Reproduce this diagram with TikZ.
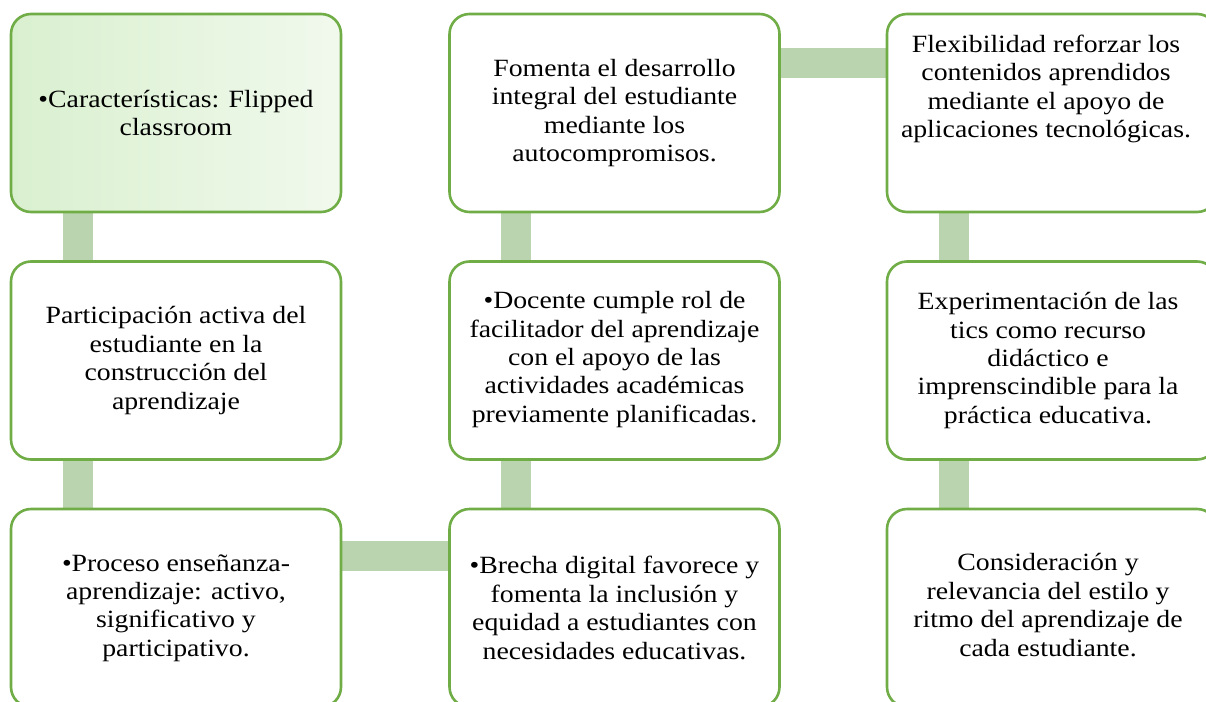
\documentclass[tikz,border=0pt]{standalone}
\usepackage{fontspec}
\setmainfont{Liberation Serif}[FakeStretch=1.12]
\usetikzlibrary{backgrounds}
\definecolor{boxgreen}{RGB}{112,173,71}
\definecolor{bargreen}{RGB}{187,212,176}
\definecolor{fillL}{RGB}{217,240,207}
\definecolor{fillR}{RGB}{241,249,237}
\tikzset{
  card/.style={draw=boxgreen, line width=2.6pt, rounded corners=20pt, fill=white,
    minimum width=330pt, minimum height=198pt, inner sep=0pt},
  firstcard/.style={card, left color=fillL, right color=fillR},
  txt/.style={align=center, inner sep=0pt, font=\fontsize{24.8}{28.4}\selectfont},
  bar/.style={draw=bargreen, line width=30pt, line cap=butt}
}
\begin{document}
\begin{tikzpicture}[x=1pt,y=-1pt]
\useasboundingbox (0,0) rectangle (1206,701);
\clip (0,0) rectangle (1206,701);
% boxes
\node[firstcard] (b11) at (176,113) {};
\node[card] (b12) at (176,360.5) {};
\node[card] (b13) at (176,608) {};
\node[card] (b21) at (614.5,113) {};
\node[card] (b22) at (614.5,360.5) {};
\node[card] (b23) at (614.5,608) {};
\node[card] (b31) at (1052,113) {};
\node[card] (b32) at (1052,360.5) {};
\node[card] (b33) at (1052,608) {};
% connectors
\begin{scope}[on background layer]
\draw[bar] ([xshift=68pt]b11.south west) -- ([xshift=68pt]b12.north west);
\draw[bar] ([xshift=68pt]b12.south west) -- ([xshift=68pt]b13.north west);
\draw[bar] ([yshift=-48.5pt]b13.north east) -- ([yshift=-48.5pt]b23.north west);
\draw[bar] ([xshift=68pt]b23.north west) -- ([xshift=68pt]b22.south west);
\draw[bar] ([xshift=68pt]b22.north west) -- ([xshift=68pt]b21.south west);
\draw[bar] ([yshift=-50pt]b21.north east) -- ([yshift=-50pt]b31.north west);
\draw[bar] ([xshift=68pt]b31.south west) -- ([xshift=68pt]b32.north west);
\draw[bar] ([xshift=68pt]b32.south west) -- ([xshift=68pt]b33.north west);
\end{scope}
% texts
\node[txt] (t11) at (b11.center) {•Características: Flipped\\classroom};
\node[txt] (t12) at (b12.center) {Participación activa del\\estudiante en la\\construcción del\\aprendizaje};
\node[txt] (t13) at (b13.center) {•Proceso enseñanza-\\aprendizaje: activo,\\significativo y\\participativo.};
\node[txt] (t21) at (b21.center) {Fomenta el desarrollo\\integral del estudiante\\mediante los\\autocompromisos.};
\node[txt] (t22) at ([yshift=1pt]b22.center) {•Docente cumple rol de\\facilitador del aprendizaje\\con el apoyo de las\\actividades académicas\\previamente planificadas.};
\node[txt] (t23) at (b23.center) {•Brecha digital favorece y\\fomenta la inclusión y\\equidad a estudiantes con\\necesidades educativas.};
\node[txt] (t31) at ([xshift=-6pt,yshift=24pt]b31.center) {Flexibilidad reforzar los\\contenidos aprendidos\\mediante el apoyo de\\aplicaciones tecnológicas.};
\node[txt] (t32) at ([xshift=-4pt]b32.center) {Experimentación de las\\tics como recurso\\didáctico e\\imprenscindible para la\\práctica educativa.};
\node[txt] (t33) at ([xshift=-4pt,yshift=3pt]b33.center) {Consideración y\\relevancia del estilo y\\ritmo del aprendizaje de\\cada estudiante.};
\end{tikzpicture}
\end{document}
